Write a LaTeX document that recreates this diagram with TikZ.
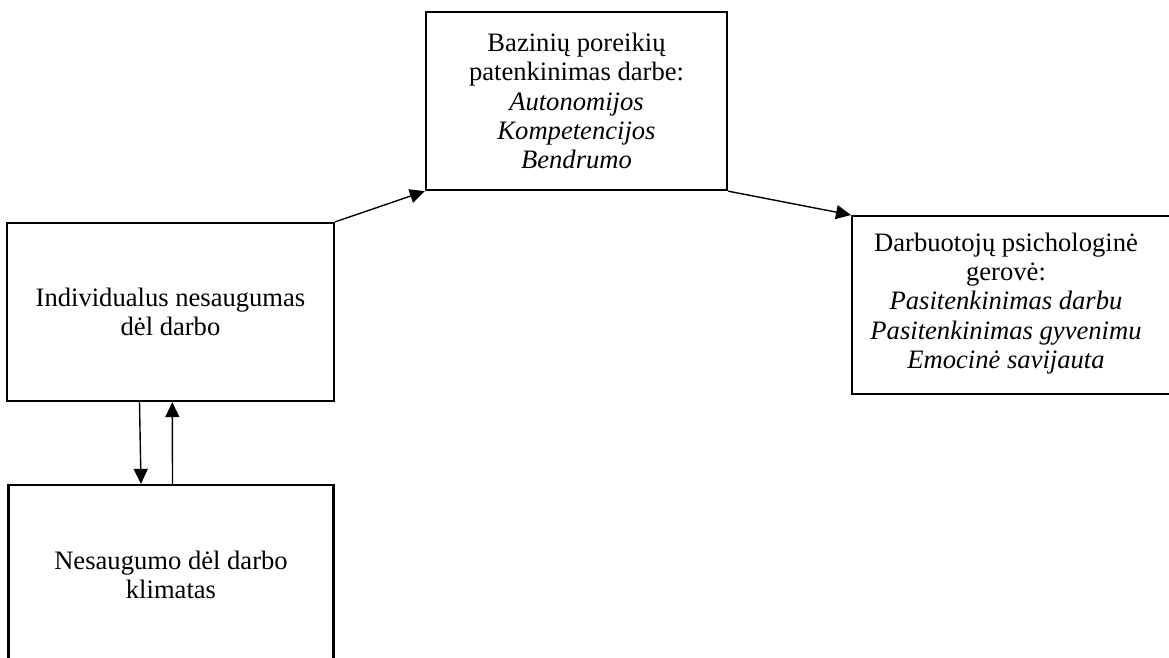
\documentclass[tikz,border=0pt]{standalone}
\usepackage{fontspec}
\setmainfont{Liberation Serif}
\usetikzlibrary{arrows.meta}
\begin{document}
\begin{tikzpicture}[x=1pt,y=-1pt,
  box/.style={draw, line width=2.3pt, rectangle, inner sep=0pt},
  txt/.style={align=center, font=\fontsize{26.6}{29.4}\selectfont, inner sep=0pt},
  link/.style={line width=1.4pt, -{Triangle[length=15pt,width=14pt]}}]
\useasboundingbox (0,0) rectangle (1169,657);
\clip (0,0) rectangle (1169,657);

% individual job insecurity
\node[box, txt, minimum width=327pt, minimum height=178pt] (ind) at (170.5,312)
  {Individualus nesaugumas\\dėl darbo};

% job insecurity climate
\node[box, txt, minimum width=325pt, minimum height=180pt] (clim) at (171,575)
  {Nesaugumo dėl darbo\\klimatas};

% basic needs satisfaction
\node[box, txt, minimum width=301pt, minimum height=178pt] (needs) at (576.5,101)
  {Bazinių poreikių\\patenkinimas darbe:\\\textit{Autonomijos}\\\textit{Kompetencijos}\\\textit{Bendrumo}};

% psychological well-being
\node[box, minimum width=330pt, minimum height=178pt, anchor=north west] (wellbox) at (851,215) {};
\node[txt] (well) at (1006,303.5)
  {Darbuotojų psichologinė\\gerovė:\\\textit{Pasitenkinimas darbu}\\\textit{Pasitenkinimas gyvenimu}\\\textit{Emocinė savijauta}};

% connectors
\draw[link] (ind.north east) -- (needs.south west);
\draw[link] (needs.south east) -- (wellbox.north west);
\draw[link] ([xshift=-31pt]ind.south) -- ([xshift=-30pt]clim.north);
\draw[link] ([xshift=1.5pt]clim.north) -- ([xshift=1.8pt]ind.south);
\end{tikzpicture}
\end{document}
